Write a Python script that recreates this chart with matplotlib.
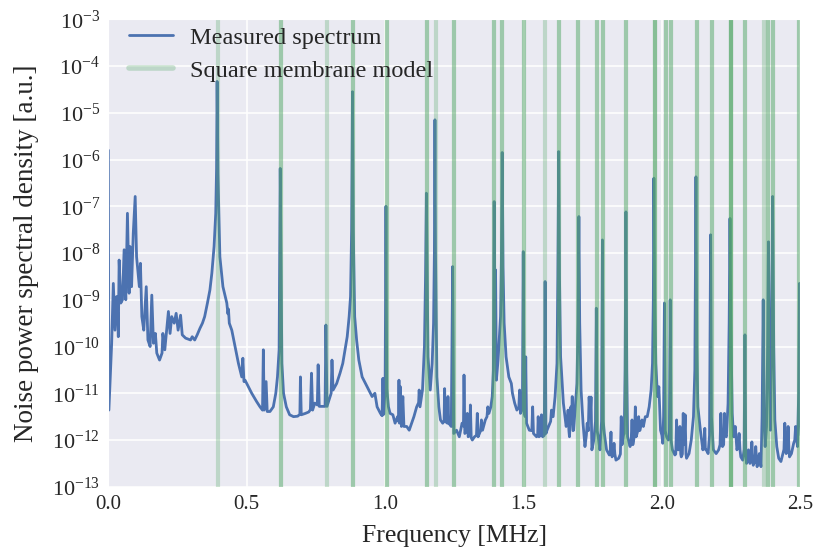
import matplotlib
matplotlib.use("Agg")
import matplotlib.pyplot as plt
import numpy as np
import seaborn as sns
from matplotlib.ticker import LogLocator, FixedLocator

# measured spectrum: frequency [MHz] and log10(PSD)
freq_mhz = [
    0.000, 0.002, 0.012, 0.018, 0.024, 0.030, 0.034, 0.036, 0.039, 0.045, 0.051, 0.057, 0.063, 0.069,
    0.075, 0.078, 0.084, 0.090, 0.097, 0.102, 0.112, 0.116, 0.121, 0.128, 0.137, 0.143, 0.151, 0.157,
    0.163, 0.170, 0.175, 0.185, 0.194, 0.197, 0.204, 0.217, 0.223, 0.229, 0.238, 0.245, 0.252, 0.261,
    0.267, 0.279, 0.297, 0.303, 0.312, 0.321, 0.331, 0.340, 0.348, 0.358, 0.367, 0.374, 0.382, 0.388,
    0.391, 0.393, 0.396, 0.403, 0.414, 0.428, 0.432, 0.434, 0.437, 0.446, 0.458, 0.470, 0.482, 0.486,
    0.490, 0.494, 0.506, 0.518, 0.536, 0.548, 0.557, 0.560, 0.563, 0.570, 0.574, 0.584, 0.596, 0.605,
    0.611, 0.617, 0.621, 0.627, 0.633, 0.643, 0.655, 0.669, 0.684, 0.692, 0.694, 0.697, 0.712, 0.724,
    0.730, 0.734, 0.738, 0.746, 0.755, 0.758, 0.762, 0.776, 0.783, 0.786, 0.790, 0.801, 0.805, 0.808,
    0.812, 0.825, 0.837, 0.847, 0.855, 0.863, 0.870, 0.875, 0.879, 0.882, 0.885, 0.890, 0.897, 0.905,
    0.917, 0.929, 0.941, 0.953, 0.963, 0.971, 0.983, 0.989, 0.992, 0.995, 1.000, 1.003, 1.006, 1.012,
    1.018, 1.028, 1.036, 1.045, 1.048, 1.050, 1.052, 1.055, 1.059, 1.064, 1.068, 1.078, 1.087, 1.096,
    1.104, 1.114, 1.121, 1.123, 1.126, 1.135, 1.142, 1.146, 1.149, 1.152, 1.155, 1.163, 1.170, 1.175,
    1.178, 1.180, 1.182, 1.187, 1.194, 1.200, 1.208, 1.213, 1.215, 1.217, 1.225, 1.227, 1.230, 1.239,
    1.244, 1.248, 1.258, 1.268, 1.278, 1.283, 1.285, 1.288, 1.295, 1.297, 1.300, 1.306, 1.308, 1.311,
    1.315, 1.323, 1.330, 1.333, 1.336, 1.345, 1.348, 1.352, 1.362, 1.368, 1.371, 1.375, 1.382, 1.387,
    1.391, 1.394, 1.397, 1.399, 1.402, 1.408, 1.417, 1.420, 1.423, 1.426, 1.430, 1.437, 1.447, 1.456,
    1.460, 1.468, 1.476, 1.483, 1.486, 1.489, 1.496, 1.499, 1.502, 1.506, 1.508, 1.511, 1.521, 1.530,
    1.533, 1.536, 1.547, 1.551, 1.553, 1.556, 1.562, 1.565, 1.569, 1.575, 1.578, 1.581, 1.585, 1.595,
    1.598, 1.601, 1.604, 1.607, 1.614, 1.621, 1.624, 1.627, 1.630, 1.634, 1.644, 1.654, 1.658, 1.661,
    1.664, 1.666, 1.669, 1.671, 1.674, 1.676, 1.679, 1.681, 1.687, 1.693, 1.697, 1.700, 1.703, 1.708,
    1.715, 1.722, 1.727, 1.730, 1.734, 1.737, 1.741, 1.744, 1.747, 1.754, 1.760, 1.763, 1.766, 1.770,
    1.776, 1.782, 1.785, 1.788, 1.792, 1.800, 1.810, 1.813, 1.816, 1.818, 1.820, 1.824, 1.827, 1.830,
    1.834, 1.844, 1.850, 1.853, 1.856, 1.861, 1.864, 1.867, 1.870, 1.873, 1.876, 1.885, 1.889, 1.892,
    1.895, 1.901, 1.904, 1.907, 1.913, 1.916, 1.919, 1.921, 1.928, 1.933, 1.940, 1.947, 1.954, 1.961,
    1.966, 1.969, 1.971, 1.974, 1.978, 1.984, 1.989, 1.995, 2.000, 2.003, 2.006, 2.009, 2.012, 2.017,
    2.023, 2.027, 2.030, 2.033, 2.038, 2.047, 2.050, 2.053, 2.056, 2.059, 2.062, 2.065, 2.068, 2.070,
    2.074, 2.077, 2.080, 2.084, 2.087, 2.089, 2.098, 2.106, 2.114, 2.119, 2.123, 2.126, 2.130, 2.139,
    2.148, 2.152, 2.155, 2.157, 2.160, 2.167, 2.172, 2.176, 2.179, 2.186, 2.196, 2.205, 2.210, 2.213,
    2.216, 2.219, 2.223, 2.226, 2.229, 2.233, 2.239, 2.243, 2.246, 2.249, 2.254, 2.259, 2.265, 2.271,
    2.276, 2.279, 2.282, 2.285, 2.292, 2.297, 2.300, 2.303, 2.306, 2.310, 2.313, 2.316, 2.318, 2.322,
    2.325, 2.328, 2.330, 2.336, 2.339, 2.342, 2.344, 2.352, 2.358, 2.362, 2.366, 2.369, 2.373, 2.378,
    2.382, 2.385, 2.388, 2.392, 2.396, 2.400, 2.404, 2.408, 2.415, 2.422, 2.430, 2.437, 2.441, 2.444,
    2.447, 2.449, 2.453, 2.456, 2.459, 2.461, 2.468, 2.476, 2.480, 2.483, 2.487, 2.490, 2.494, 2.497,
    2.500, 2.503, 2.511,
]
log_psd = [
    -5.80, -11.36, -9.93, -8.65, -9.65, -8.93, -9.30, -9.79, -8.15, -9.07, -9.00, -7.93, -9.00, -7.15,
    -8.86, -7.86, -8.72, -7.58, -6.79, -8.08, -8.72, -8.22, -9.36, -9.65, -8.72, -9.86, -10.00, -8.90,
    -9.93, -9.72, -10.14, -10.29, -10.14, -9.72, -10.07, -9.25, -9.72, -9.36, -9.50, -9.29, -9.65, -9.33,
    -9.75, -9.82, -9.86, -9.79, -9.86, -9.75, -9.61, -9.50, -9.36, -9.07, -8.79, -8.43, -7.86, -7.15,
    -6.20, -4.33, -6.30, -8.08, -8.72, -9.07, -9.30, -9.20, -9.50, -9.65, -10.00, -10.36, -10.65, -10.25,
    -10.75, -10.72, -10.86, -11.00, -11.18, -11.29, -11.36, -10.07, -11.36, -10.75, -11.39, -11.39, -11.29, -11.00,
    -10.65, -10.07, -6.19, -10.36, -11.00, -11.29, -11.46, -11.50, -11.49, -11.45, -10.65, -11.46, -11.43, -11.40,
    -11.35, -10.57, -11.36, -11.21, -11.25, -10.39, -11.28, -11.28, -11.28, -9.54, -11.28, -11.07, -11.00, -10.29,
    -10.93, -10.79, -10.57, -10.36, -10.07, -9.79, -9.36, -8.93, -7.50, -4.55, -7.50, -9.36, -9.86, -10.29,
    -10.65, -10.79, -10.93, -11.07, -11.00, -11.29, -11.43, -11.48, -10.68, -11.45, -10.90, -7.00, -10.90, -11.29,
    -11.43, -11.46, -11.64, -11.50, -11.60, -10.72, -11.64, -10.86, -11.71, -11.07, -11.71, -11.71, -11.79, -11.64,
    -11.50, -11.29, -11.20, -10.93, -11.29, -10.93, -10.00, -8.50, -6.72, -8.50, -10.22, -10.93, -10.36, -9.50,
    -8.00, -5.15, -8.00, -10.65, -11.29, -11.57, -11.64, -11.60, -10.90, -11.60, -11.64, -11.07, -11.64, -11.71,
    -8.29, -11.86, -11.79, -11.93, -11.64, -11.70, -10.61, -11.86, -11.80, -11.43, -11.93, -11.90, -11.25, -11.95,
    -12.00, -11.93, -11.90, -11.43, -11.93, -11.80, -11.57, -11.79, -11.57, -11.50, -11.29, -11.43, -11.29, -11.07,
    -10.50, -6.90, -9.50, -8.36, -10.72, -10.29, -9.36, -8.20, -5.85, -8.30, -9.50, -10.22, -10.65, -10.79,
    -11.00, -11.21, -11.36, -11.30, -10.93, -11.43, -11.30, -7.97, -11.40, -11.50, -10.22, -11.64, -11.79, -11.80,
    -11.29, -11.86, -11.93, -11.90, -11.50, -11.93, -11.90, -11.46, -11.93, -11.90, -8.61, -11.86, -11.79, -11.64,
    -11.60, -11.36, -11.50, -11.50, -11.07, -10.36, -8.50, -5.83, -8.50, -10.22, -11.21, -11.71, -11.60, -11.36,
    -11.80, -11.93, -11.60, -11.29, -11.50, -11.07, -11.80, -11.79, -11.29, -10.79, -9.50, -7.22, -9.50, -10.93,
    -11.64, -12.14, -11.90, -11.64, -11.80, -11.08, -11.50, -11.08, -12.21, -12.00, -11.60, -9.18, -11.80, -11.93,
    -12.21, -11.60, -7.72, -11.60, -11.86, -12.21, -12.32, -12.30, -11.83, -12.30, -12.36, -12.30, -12.07, -12.30,
    -12.43, -12.39, -12.30, -11.50, -12.10, -11.90, -11.86, -10.50, -7.12, -10.50, -11.93, -12.14, -12.00, -11.57,
    -12.10, -11.90, -11.29, -11.93, -11.80, -11.50, -11.80, -11.79, -11.57, -11.71, -11.50, -11.50, -11.29, -10.93,
    -10.36, -9.00, -6.40, -9.00, -10.36, -11.07, -10.86, -11.79, -11.90, -12.07, -11.50, -9.07, -11.80, -11.93,
    -12.00, -11.90, -9.00, -12.00, -12.21, -12.32, -12.30, -11.57, -12.20, -12.21, -12.20, -11.71, -12.30, -12.36,
    -12.30, -11.43, -12.10, -11.46, -12.30, -12.39, -12.29, -12.00, -11.50, -10.50, -6.37, -10.00, -11.29, -11.79,
    -12.21, -12.10, -11.75, -12.20, -12.21, -12.29, -11.90, -7.61, -11.50, -12.21, -12.29, -12.21, -12.10, -11.43,
    -12.10, -12.14, -12.10, -11.43, -11.90, -11.93, -11.22, -9.50, -7.26, -9.50, -11.43, -11.93, -11.71, -12.21,
    -12.10, -11.86, -12.20, -12.36, -12.43, -12.20, -9.75, -12.30, -12.50, -12.40, -12.21, -12.45, -12.50, -12.45,
    -12.04, -12.45, -12.54, -12.45, -12.14, -12.45, -12.57, -12.29, -12.57, -11.50, -9.00, -11.50, -12.14, -11.71,
    -10.00, -7.76, -10.00, -11.79, -10.00, -6.79, -10.00, -11.57, -12.14, -12.39, -12.46, -12.29, -12.20, -11.64,
    -12.20, -12.29, -12.20, -11.71, -12.20, -12.36, -12.29, -12.07, -12.00, -11.71, -12.00, -12.14, -11.00, -8.65,
    -11.50, -11.90, -11.50,
]

# square membrane mode frequencies [MHz]; degenerate modes are listed once per mode
model_freqs = [
    0.395, 0.624, 0.624, 0.789, 0.883, 0.883, 1.006, 1.006, 1.151, 1.151, 1.184, 1.248, 1.248,
    1.395, 1.395, 1.423, 1.423, 1.503, 1.503, 1.579, 1.627, 1.627, 1.698, 1.698, 1.765, 1.765,
    1.787, 1.787, 1.872, 1.872, 1.974, 1.974, 1.974, 2.013, 2.013, 2.032, 2.032, 2.126, 2.126,
    2.180, 2.180, 2.250, 2.250, 2.250, 2.250, 2.301, 2.301, 2.368, 2.385, 2.385, 2.401, 2.401,
    2.496, 2.496,
]

sns.set_style("darkgrid")
plt.rcParams['font.family'] = ['Liberation Serif', 'DejaVu Serif']
plt.rcParams['mathtext.fontset'] = 'stix'

fig = plt.figure(figsize=(8.22, 5.56), dpi=100)
ax = fig.add_axes([0.1318, 0.1245, 0.8418, 0.8408])

ax.plot(freq_mhz, np.power(10.0, log_psd), color='#4C72B0', lw=2.0, label='Measured spectrum')
for i, f in enumerate(model_freqs):
    ax.axvline(f, color='#55A868', alpha=0.3, lw=3,
               label='Square membrane model' if i == 0 else None)

ax.set_yscale('log')
ax.set_xlim(0, 2.5)
ax.set_ylim(1e-13, 1e-3)
ax.yaxis.set_major_locator(LogLocator(base=10, numticks=20))
ax.yaxis.set_minor_locator(FixedLocator([]))
ax.set_xticks([0.0, 0.5, 1.0, 1.5, 2.0, 2.5])
ax.set_xticklabels(['0.0', '0.5', '1.0', '1.5', '2.0', '2.5'])
ax.tick_params(labelsize=15, length=0, pad=6)
ax.tick_params(axis='y', labelsize=16)
ax.grid(True, color='white', lw=1.1)

ax.set_xlabel('Frequency [MHz]', fontsize=18.5, labelpad=8)
ax.set_ylabel('Noise power spectral density [a.u.]', fontsize=19.5, labelpad=9)

leg = ax.legend(loc='upper left', bbox_to_anchor=(0.019, 1.0), fontsize=17.5, frameon=False,
                handlelength=1.8, handletextpad=0.7, labelspacing=0.45,
                borderaxespad=0.0, borderpad=0.3)
leg.get_lines()[0].set_linewidth(2.0)
leg.get_lines()[1].set_linewidth(4.0)

plt.savefig('out.png', dpi=100)
plt.close()
